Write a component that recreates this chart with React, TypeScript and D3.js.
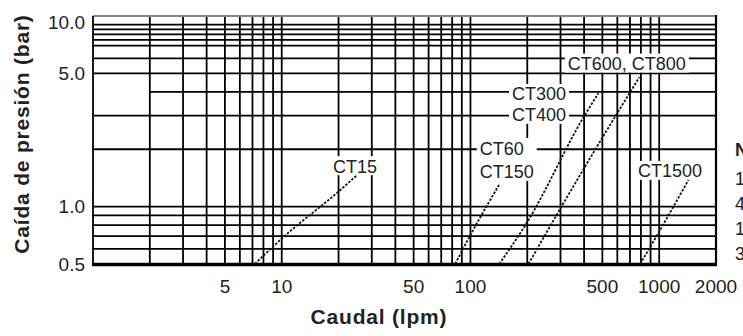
import React, { useEffect, useRef } from "react";
import * as d3 from "d3";

// axis ticks + grid
const xTicks = [5, 10, 50, 100, 500, 1000, 2000];
const yTicks = [0.5, 1, 5, 10];
const xGrid = [2, 3, 4, 5, 6, 7, 8, 9, 10, 20, 30, 40, 50, 60, 70, 80, 90, 100, 200, 300, 400, 500, 600, 700, 800, 900, 1000];
const yGrid = [0.6, 0.7, 0.8, 0.9, 1, 2, 3, 4, 5, 6, 7, 7.5, 8, 8.5, 9];

// curves: [caudal lpm, caida bar]
const ct15 = [[7.2, 0.5], [10, 0.68], [20, 1.2], [24.8, 1.45]];
const ct60_150 = [[83, 0.5], [100, 0.71], [143, 1.32]];
const ct300_400 = [[142, 0.5], [200, 0.83], [397, 2.94], [476, 3.93]];
const ct600_800 = [[203, 0.5], [300, 0.98], [500, 2.3], [785, 4.77]];
const ct1500 = [[792, 0.5], [1000, 0.74], [1429, 1.38]];

const curves = [ct15, ct60_150, ct300_400, ct600_800, ct1500];

// labels, anchored (left edge, vertical centre) in data units
const labels = [
  { text: "CT15", flow: 18.7, dp: 1.63, group: 0 },
  { text: "CT60", flow: 112, dp: 2.03, group: 1 },
  { text: "CT150", flow: 112, dp: 1.52, group: 1 },
  { text: "CT300", flow: 166, dp: 3.9, group: 2 },
  { text: "CT400", flow: 166, dp: 3.03, group: 2 },
  { text: "CT600, CT800", flow: 328, dp: 5.63, group: 3 },
  { text: "CT1500", flow: 773, dp: 1.54, group: 4 },
];

const legendLines = ["1", "4", "1", "3"];

const FONT = "'Liberation Sans', Arial, Helvetica, sans-serif";

const App = () => {
  const ref = useRef<SVGSVGElement>(null);

  useEffect(() => {
    const svg = d3.select(ref.current);
    svg.selectAll("*").remove();

    const left = 93, right = 716, top = 16, bottom = 264;
    const x = d3.scaleLog().domain([1, 2000]).range([left, right]);
    const y = d3.scaleLog().domain([0.5, 10]).range([bottom, top]);

    const grid = svg.append("g").attr("stroke", "#000").attr("stroke-width", 1.8);

    grid
      .selectAll("line.v")
      .data(xGrid)
      .enter()
      .append("line")
      .attr("x1", (d) => x(d))
      .attr("x2", (d) => x(d))
      .attr("y1", top)
      .attr("y2", bottom);

    grid
      .selectAll("line.h")
      .data(yGrid)
      .enter()
      .append("line")
      .attr("x1", (d) => (d === 4 ? x(2) : left))
      .attr("x2", right)
      .attr("y1", (d) => y(d))
      .attr("y2", (d) => y(d));

    // frame
    svg.append("line").attr("x1", left).attr("x2", right).attr("y1", top).attr("y2", top)
      .attr("stroke", "#888").attr("stroke-width", 2.2);
    svg.append("line").attr("x1", left).attr("x2", left).attr("y1", top).attr("y2", bottom)
      .attr("stroke", "#000").attr("stroke-width", 1.8);
    svg.append("line").attr("x1", right).attr("x2", right).attr("y1", top - 1).attr("y2", bottom)
      .attr("stroke", "#000").attr("stroke-width", 2.2);
    svg.append("line").attr("x1", left - 1).attr("x2", right + 1).attr("y1", bottom + 0.5).attr("y2", bottom + 0.5)
      .attr("stroke", "#000").attr("stroke-width", 3.5);

    // labels with white knock-out boxes
    const boxLayer = svg.append("g");
    const labelLayer = svg
      .append("g")
      .attr("font-family", FONT)
      .attr("font-size", 18)
      .attr("fill", "#222");

    const texts = labelLayer
      .selectAll("text")
      .data(labels)
      .enter()
      .append("text")
      .attr("x", (d) => x(d.flow))
      .attr("y", (d) => y(d.dp) + 6.5)
      .text((d) => d.text);

    const groups = d3.group(labels.map((d, i) => ({ ...d, i })), (d) => d.group);
    const nodes = texts.nodes() as SVGTextElement[];
    groups.forEach((items) => {
      let x0 = Infinity, x1 = -Infinity, y0 = Infinity, y1 = -Infinity;
      items.forEach((it) => {
        const b = nodes[it.i].getBBox();
        const cy = y(it.dp);
        x0 = Math.min(x0, b.x);
        x1 = Math.max(x1, b.x + b.width);
        y0 = Math.min(y0, cy - 10);
        y1 = Math.max(y1, cy + 9);
      });
      boxLayer
        .append("rect")
        .attr("x", x0 - 3)
        .attr("y", y0)
        .attr("width", x1 - x0 + 6)
        .attr("height", y1 - y0)
        .attr("fill", "#fff");
    });

    // curves
    const line = d3
      .line<number[]>()
      .x((d) => x(d[0]))
      .y((d) => y(d[1]))
      .curve(d3.curveMonotoneX);

    svg
      .append("g")
      .selectAll("path")
      .data(curves)
      .enter()
      .append("path")
      .attr("d", (d) => line(d))
      .attr("fill", "none")
      .attr("stroke", "#111")
      .attr("stroke-width", 1.8)
      .attr("stroke-dasharray", "2.5,1.5");

    // tick labels
    const tickLayer = svg.append("g").attr("font-family", FONT).attr("font-size", 19).attr("fill", "#222");
    tickLayer
      .selectAll("text.y")
      .data(yTicks)
      .enter()
      .append("text")
      .attr("x", 85)
      .attr("y", (d) => Math.max(y(d), 22) + 6.8)
      .attr("text-anchor", "end")
      .text((d) => d3.format(".1f")(d));

    tickLayer
      .selectAll("text.x")
      .data(xTicks)
      .enter()
      .append("text")
      .attr("x", (d) => x(d))
      .attr("y", 293)
      .attr("text-anchor", "middle")
      .text((d) => String(d));

    // axis titles
    svg
      .append("text")
      .attr("x", 379)
      .attr("y", 324)
      .attr("text-anchor", "middle")
      .attr("font-family", FONT)
      .attr("font-size", 21)
      .attr("font-weight", "bold")
      .attr("letter-spacing", 0.8)
      .attr("fill", "#222")
      .text("Caudal (lpm)");

    svg
      .append("text")
      .attr("transform", "translate(29,134) rotate(-90)")
      .attr("text-anchor", "middle")
      .attr("font-family", FONT)
      .attr("font-size", 21)
      .attr("font-weight", "bold")
      .attr("letter-spacing", 0.8)
      .attr("fill", "#222")
      .text("Caída de presión (bar)");

    // side note, cut by the page edge as in the source
    const note = svg.append("g").attr("font-family", FONT).attr("font-size", 18).attr("fill", "#222");
    note.append("text").attr("x", 735).attr("y", 156).attr("font-weight", "bold").text("N");
    note
      .selectAll("text.n")
      .data(legendLines)
      .enter()
      .append("text")
      .attr("x", 735)
      .attr("y", (d, i) => 185 + i * 25)
      .text((d) => d);
  }, []);

  return (
    <svg
      ref={ref}
      width={743}
      height={336}
      style={{ position: "absolute", left: 0, top: 0, background: "#fff" }}
    />
  );
};

export default App;
